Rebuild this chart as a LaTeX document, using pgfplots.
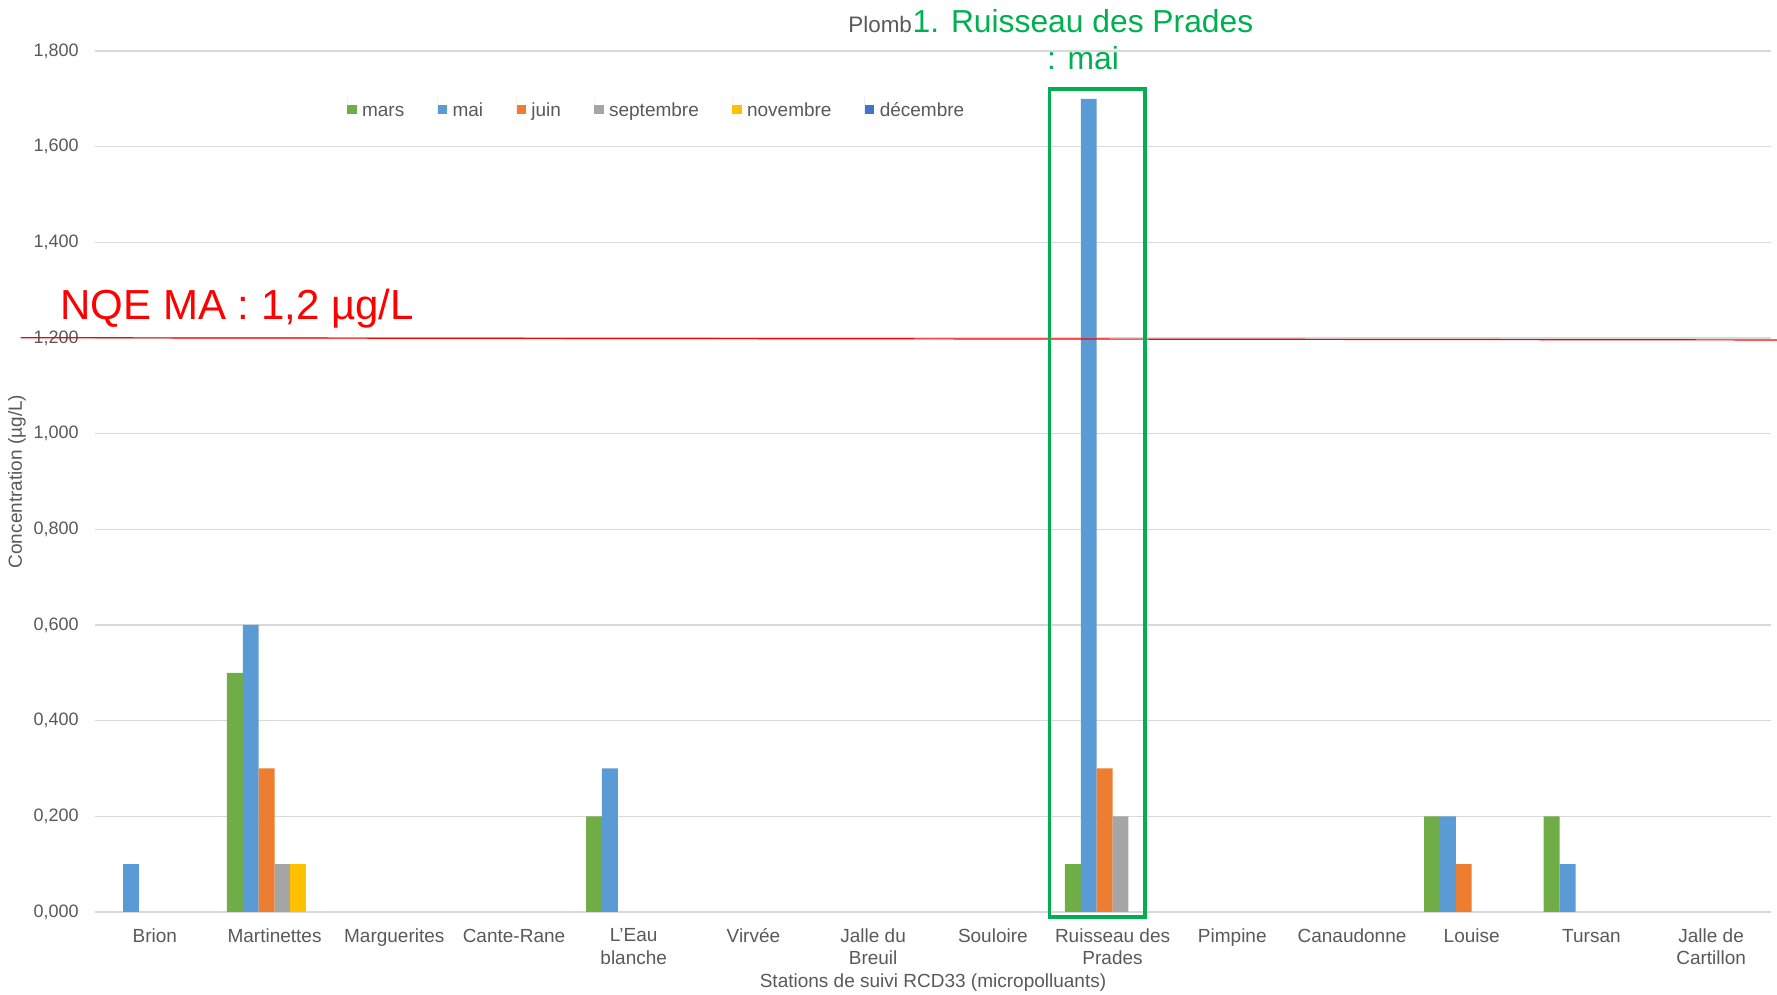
\documentclass[border=0pt]{standalone}
\usepackage{pgfplots}
\pgfplotsset{compat=1.18}
\usepackage{fontspec}
\setmainfont{Liberation Sans}
\definecolor{cmars}{HTML}{70AD47}
\definecolor{cmai}{HTML}{5B9BD5}
\definecolor{cjuin}{HTML}{ED7D31}
\definecolor{csept}{HTML}{A5A5A5}
\definecolor{cnov}{HTML}{FFC000}
\definecolor{cdec}{HTML}{4472C4}
\definecolor{txt}{HTML}{595959}
\definecolor{gridc}{HTML}{D9D9D9}
\definecolor{ngreen}{HTML}{00B050}
\begin{document}
\begin{tikzpicture}
\begin{axis}[
  at={(0,0)}, anchor=south west,
  scale only axis, width=838pt, height=430.5pt,
  ybar, bar width=7.95pt,
  xmin=-0.5, xmax=13.5, ymin=0, ymax=1.8,
  xtick={0,1,2,3,4,5,6,7,8,9,10,11,12,13},
  xticklabels={Brion, Martinettes, Marguerites, Cante-Rane, {L\symbol{39}Eau\\blanche}, Virvée, {Jalle du\\Breuil}, Souloire, {Ruisseau des\\Prades}, Pimpine, Canaudonne, Louise, Tursan, {Jalle de\\Cartillon}},
  ytick={0,0.2,0.4,0.6,0.8,1.0,1.2,1.4,1.6,1.8},
  ymajorgrids, grid style={gridc, line width=0.6pt},
  axis line style={draw=none}, major tick length=0,
  clip=false,
  xticklabel style={inner sep=0pt, anchor=north, yshift=-8pt, align=center, font=\fontsize{9.5}{11.3}\selectfont, text=txt, execute at begin node={\rule{0pt}{7pt}}},
  yticklabel style={inner sep=0pt, anchor=east, xshift=-8pt, font=\fontsize{9}{11}\selectfont, text=txt,
    /pgf/number format/.cd, fixed, fixed zerofill, precision=3, use comma, assume math mode=true},
  xlabel={Stations de suivi RCD33 (micropolluants)},
  xlabel style={at={([yshift=-35.3pt]axis description cs:0.5,0)}, anchor=center, font=\fontsize{9.5}{11}\selectfont, text=txt},
  ylabel={Concentration (µg/L)},
  ylabel style={at={([xshift=-39pt]axis description cs:0,0.5)}, anchor=center, font=\fontsize{9.5}{11}\selectfont, text=txt},
  legend columns=6,
  legend image code/.code={\path (0pt,-2pt) -- (0pt,7pt); \fill[#1] (0pt,-1.4pt) rectangle (4.65pt,3.25pt);},
  legend style={at={(0.3346,0.933)}, anchor=center, draw=none, fill=none,
    font=\fontsize{9.5}{11}\selectfont, text=txt,
    nodes={inner sep=0pt, text height=7pt, text depth=2pt},
    /tikz/every odd column/.append style={column sep=2.75pt},
    /tikz/every even column/.append style={column sep=16.7pt}},
]
\addplot[fill=cmars, draw=none, bar shift=-19.875pt] coordinates {(1,0.5) (4,0.2) (8,0.1) (11,0.2) (12,0.2)};
\addplot[fill=cmai, draw=none, bar shift=-11.925pt] coordinates {(0,0.1) (1,0.6) (4,0.3) (8,1.7) (11,0.2) (12,0.1)};
\addplot[fill=cjuin, draw=none, bar shift=-3.975pt] coordinates {(1,0.3) (8,0.3) (11,0.1)};
\addplot[fill=csept, draw=none, bar shift=3.975pt] coordinates {(1,0.1) (8,0.2)};
\addplot[fill=cnov, draw=none, bar shift=11.925pt] coordinates {(1,0.1)};
\addlegendentry{mars}
\addlegendentry{mai}
\addlegendentry{juin}
\addlegendentry{septembre}
\addlegendentry{novembre}
\addlegendimage{fill=cdec, draw=none}
\addlegendentry{décembre}
\draw[red, line width=0.6pt] (axis cs:-1.121,1.2006) -- (axis cs:13.55,1.1959);
\draw[ngreen, line width=1.7pt] (axis cs:7.474,-0.0107) rectangle (axis cs:8.27,1.7207);
\end{axis}
\node[anchor=base west, inner sep=0pt, text=red, font=\fontsize{21}{25}\selectfont] at (-17.5pt,296.3pt) {NQE MA : 1,2 µg/L};
\node[anchor=base, inner sep=0pt, text=ngreen, font=\fontsize{15.9}{19}\selectfont] (g1) at (494pt,439.9pt) {1. Ruisseau des Prades};
\node[anchor=base, inner sep=0pt, text=ngreen, font=\fontsize{15.9}{19}\selectfont] at (494pt,421pt) {: mai};
\node[anchor=base east, inner sep=0pt, text=txt, font=\fontsize{11.2}{13}\selectfont] at (g1.base west) {Plomb};
\pgfresetboundingbox
\useasboundingbox (-47.5pt,-41.5pt) rectangle (841pt,456pt);
\end{tikzpicture}
\end{document}
